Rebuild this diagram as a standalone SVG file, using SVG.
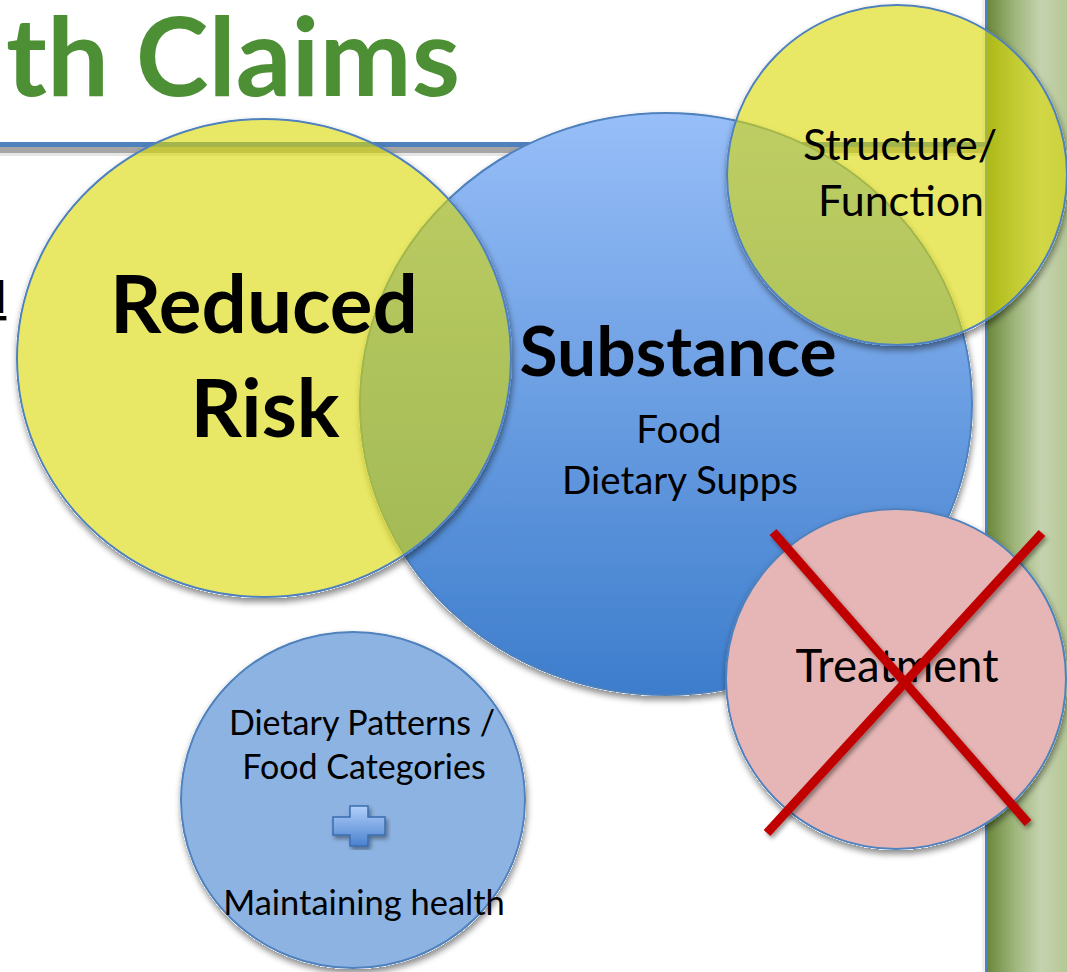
<svg xmlns="http://www.w3.org/2000/svg" width="1067" height="972" viewBox="0 0 1067 972">
  <style>
    text { font-family: Lato, "Liberation Sans", sans-serif; fill: #000; }
    .title { font-size: 110px; font-weight: bold; fill: #4d8f34; }
    .big { font-size: 80px; font-weight: bold; text-anchor: middle; }
    .mid { font-size: 43px; text-anchor: middle; }
    .small { font-size: 34px; text-anchor: middle; }
    .edge { stroke: #4f81bd; stroke-width: 2; }
    .xline { stroke: #c00000; stroke-width: 9; stroke-linecap: butt; }
  </style>
  <defs>
    <linearGradient id="barGrad" x1="0" y1="0" x2="1" y2="0">
      <stop offset="0" stop-color="#6a873a"/>
      <stop offset="0.35" stop-color="#9fb67c"/>
      <stop offset="0.68" stop-color="#c5d3ae"/>
      <stop offset="1" stop-color="#b5c896"/>
    </linearGradient>
    <linearGradient id="blueGrad" x1="0" y1="0" x2="0" y2="1">
      <stop offset="0" stop-color="#97bef8"/>
      <stop offset="1" stop-color="#3d7dcc"/>
    </linearGradient>
    <linearGradient id="plusGrad" x1="0" y1="0" x2="0" y2="1">
      <stop offset="0" stop-color="#b2d0fb"/>
      <stop offset="1" stop-color="#4a82cf"/>
    </linearGradient>
    <!-- outer-only soft shadow, so translucent fills are not darkened inside -->
    <filter id="outerShadow" x="-10%" y="-10%" width="120%" height="125%">
      <feComponentTransfer in="SourceAlpha" result="solid">
        <feFuncA type="linear" slope="20"/>
      </feComponentTransfer>
      <feGaussianBlur in="solid" stdDeviation="3" result="blur"/>
      <feOffset in="blur" dx="1" dy="4" result="off"/>
      <feFlood flood-color="#000" flood-opacity="0.45"/>
      <feComposite in2="off" operator="in" result="shadow"/>
      <feComposite in="shadow" in2="solid" operator="out" result="outer"/>
      <feMerge>
        <feMergeNode in="outer"/>
        <feMergeNode in="SourceGraphic"/>
      </feMerge>
    </filter>
    <filter id="lineShadow" x="-10%" y="-10%" width="120%" height="120%">
      <feDropShadow dx="2" dy="3" stdDeviation="2" flood-color="#000" flood-opacity="0.4"/>
    </filter>
  </defs>

  <rect width="1067" height="972" fill="#fff"/>

  <!-- side bar -->
  <g id="sidebar">
    <rect x="982" y="0" width="3" height="972" fill="#eef0f2"/>
    <rect x="985" y="0" width="2" height="972" fill="#4f81bd"/>
    <rect x="987" y="0" width="80" height="972" fill="url(#barGrad)"/>
  </g>

  <!-- heading -->
  <g id="heading">
    <text class="title" x="6" y="96">th Claims</text>
    <rect x="0" y="147" width="985" height="6" fill="#a6a6a6"/>
    <rect x="0" y="153" width="985" height="3" fill="#e6e6e6"/>
    <rect x="0" y="142" width="985" height="5" fill="#4f81bd"/>
  </g>

  <!-- clipped link text at the left edge -->
  <g id="edge-text">
    <text x="-4" y="313" style="font-size:44px" text-decoration="underline">l</text>
  </g>

  <g id="substance">
    <ellipse cx="666" cy="404" rx="306" ry="291" fill="url(#blueGrad)" class="edge" filter="url(#outerShadow)"/>
  </g>

  <g id="reduced-risk">
    <ellipse cx="264" cy="358" rx="247" ry="239" fill="#d9d900" fill-opacity="0.6" class="edge" filter="url(#outerShadow)"/>
  </g>

  <g id="structure-function">
    <circle cx="897" cy="175" r="170" fill="#d9d900" fill-opacity="0.6" class="edge" filter="url(#outerShadow)"/>
    <text class="mid" x="900" y="160">Structure/</text>
    <text class="mid" x="901" y="216">Function</text>
  </g>

  <g id="treatment">
    <circle cx="896" cy="679" r="170" fill="#e6b6b6" class="edge" filter="url(#outerShadow)"/>
    <text class="mid" x="897" y="682" style="font-size:45.5px">Treatment</text>
  </g>

  <g id="dietary-patterns">
    <ellipse cx="353" cy="800" rx="172" ry="168" fill="#8db3e2" class="edge" filter="url(#outerShadow)"/>
    <text class="small" x="362" y="735">Dietary Patterns /</text>
    <text class="small" x="364" y="779">Food Categories</text>
    <path d="M350 806 h18 v11 h17 v18 h-17 v11 h-18 v-11 h-17 v-18 h17 z" fill="url(#plusGrad)" stroke="#3a6cb0" stroke-width="1.5" filter="url(#lineShadow)"/>
    <text class="small" x="364" y="915" style="font-size:34.5px">Maintaining health</text>
  </g>

  <!-- circle labels drawn over the overlaps -->
  <g id="labels">
    <text class="big" x="264" y="333">Reduced</text>
    <text class="big" x="265" y="437">Risk</text>
    <text class="big" x="678" y="376" style="font-size:69.5px">Substance</text>
    <text class="small" x="679" y="443" style="font-size:38.5px">Food</text>
    <text class="small" x="680" y="494" style="font-size:38.5px">Dietary Supps</text>
  </g>

  <!-- strike-out cross over Treatment -->
  <g id="connectors" filter="url(#lineShadow)">
    <line class="xline" x1="773" y1="532" x2="1028" y2="823"/>
    <line class="xline" x1="1042" y1="533" x2="767" y2="833"/>
  </g>
</svg>
